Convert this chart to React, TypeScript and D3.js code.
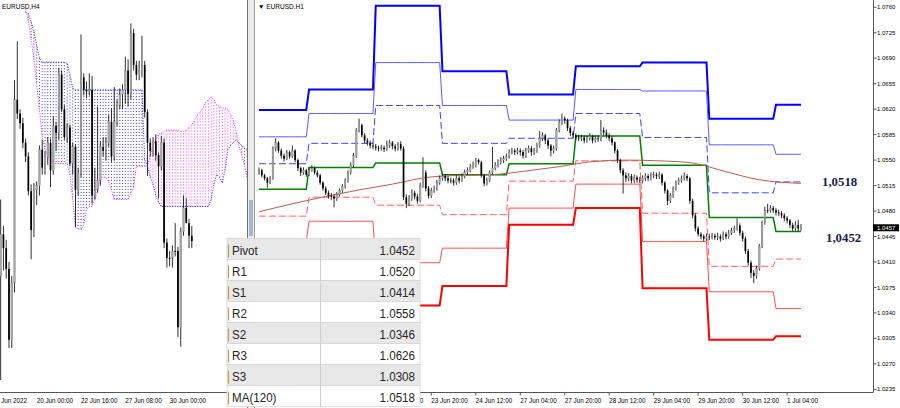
import { useEffect, useRef } from 'react';
import * as d3 from 'd3';

// all prices are kept in pips above 1.0000
const toPrice = (p: number) => 1 + p / 10000;

// EURUSD H1, 21 Jun 06:00 .. 1 Jul 09:00  [open, high, low, close]
const h1Bars: number[][] = [
  [532,540,530,536],[536,538,526,529],[529,531,522,525],[525,527,512,519],[519,528,517,525],[525,569,523,566],[566,580,562,574],[574,576,560,563],
  [563,566,552,556],[556,559,548,552],[552,564,550,561],[561,563,552,555],[555,570,553,563],[563,565,547,550],[550,552,535,539],[539,541,528,533],
  [533,540,530,536],[536,538,527,530],[530,540,528,536],[536,543,534,539],[539,541,530,533],[533,536,526,529],[529,531,516,519],[519,521,508,511],
  [511,514,502,505],[505,508,497,501],[501,505,495,500],[500,503,485,497],[497,506,494,503],[503,511,500,508],[508,517,505,514],[514,525,511,522],
  [522,536,519,533],[533,547,530,543],[543,560,540,556],[556,594,553,591],[591,607,588,598],[598,600,581,584],[584,587,573,577],[577,580,570,574],
  [574,577,566,570],[570,574,565,569],[569,572,563,567],[567,570,562,566],[566,571,563,567],[567,570,561,565],[565,577,563,570],[570,578,567,574],
  [574,576,565,569],[569,572,562,566],[566,575,563,572],[572,576,563,566],[566,569,495,499],[499,503,484,490],[490,502,487,497],[497,510,494,505],
  [505,508,496,500],[500,503,490,494],[494,519,492,515],[515,554,512,533],[533,536,507,511],[511,514,497,501],[501,512,498,508],[508,515,505,511],
  [511,523,508,519],[519,529,516,525],[525,532,522,528],[528,531,521,525],[525,528,518,522],[522,526,518,522],[522,525,515,519],[519,529,516,525],
  [525,528,518,522],[522,532,520,528],[528,537,525,533],[533,540,530,536],[536,545,533,541],[541,548,538,543],[543,553,540,550],[550,552,544,547],
  [547,549,526,529],[529,531,514,518],[518,526,515,522],[522,536,520,533],[533,568,530,539],[539,547,536,543],[543,551,540,547],[547,554,544,550],
  [550,556,546,552],[552,559,549,555],[555,565,552,561],[561,567,558,563],[563,566,557,561],[561,567,558,563],[563,566,556,561],[561,564,552,556],
  [556,567,553,563],[563,570,560,566],[566,569,556,561],[561,567,557,563],[563,574,560,570],[570,590,567,580],[580,588,576,584],[584,586,572,577],
  [577,580,565,570],[570,572,555,563],[563,570,559,566],[566,594,563,591],[591,606,588,602],[602,614,598,607],[607,610,600,605],[605,607,590,594],
  [594,597,583,587],[587,590,580,584],[584,587,577,581],[581,585,576,580],[580,585,576,581],[581,584,573,577],[577,584,574,580],[580,587,577,583],
  [583,585,573,577],[577,584,574,580],[580,584,575,579],[579,605,576,591],[591,595,584,588],[588,592,580,584],[584,587,576,580],[580,583,570,574],
  [574,576,559,563],[563,565,546,550],[550,552,532,536],[536,539,504,529],[529,533,520,525],[525,532,521,528],[528,531,518,522],[522,530,518,526],
  [526,529,519,523],[523,527,518,522],[522,529,518,525],[525,532,521,528],[528,531,521,525],[525,533,522,529],[529,534,525,530],[530,533,524,528],
  [528,534,524,530],[530,532,515,519],[519,521,504,508],[508,510,488,494],[494,505,491,501],[501,514,498,511],[511,522,508,519],[519,526,516,522],
  [522,529,519,525],[525,533,522,528],[528,531,521,525],[525,527,490,494],[494,497,470,474],[474,477,452,456],[456,459,445,448],[448,451,441,445],
  [445,448,438,442],[442,449,439,445],[445,449,440,444],[444,450,441,446],[446,449,440,444],[444,450,440,445],[445,448,438,442],[442,452,440,448],
  [448,451,441,445],[445,454,442,450],[450,457,447,453],[453,460,450,456],[456,470,453,460],[460,463,446,450],[450,453,438,442],[442,445,421,425],
  [425,428,405,409],[409,412,388,395],[395,399,381,391],[391,405,387,401],[401,435,398,432],[432,467,429,464],[464,486,461,481],[481,490,477,481],
  [481,488,478,484],[484,487,477,481],[481,484,474,478],[478,482,473,477],[477,480,470,474],[474,477,466,470],[470,473,463,467],[467,469,457,461],
  [461,464,452,456],[456,466,453,461],[461,468,452,456],[456,462,453,457],
];

// daily pivot levels on the H1 chart, one value per trading day
const dayStart = [0, 18, 42, 66, 90, 114, 138, 162, 186];
const levelR3 = [619, 647, 762, 672, 640, 679, 684, 607, 626];
const levelR2 = [582, 614, 684, 625, 605, 647, 645, 571, 558];
const levelR1 = [545, 573, 625, 573, 580, 614, 581, 505, 520];
const levelP = [510, 540, 546, 530, 545, 583, 543, 471, 452];
const levelS1 = [473, 499, 488, 475, 521, 549, 477, 404, 414];
const levelS2 = [438, 466, 409, 429, 484, 517, 438, 369, 346];
const levelS3 = [401, 425, 350, 377, 461, 484, 374, 303, 308];

// MA(120) read at some H1 bars
const maIndex = [0, 12, 24, 36, 48, 60, 72, 84, 96, 108, 120, 132, 144, 156, 168, 180, 195];
const maValue = [479, 490, 500, 509, 517, 526, 529, 530, 535, 541, 548, 550, 549, 546, 534, 523, 518];

const priceTicks = [1.076, 1.0725, 1.069, 1.0655, 1.062, 1.0585, 1.055, 1.0515, 1.048, 1.0445, 1.041, 1.0375, 1.034, 1.0305, 1.027, 1.0235];
const h1TickIndex = [46, 62, 78, 94, 110, 126, 142, 158, 174, 190];
const h1TickLabel = ['23 Jun 04:00', '23 Jun 20:00', '24 Jun 12:00', '27 Jun 04:00', '27 Jun 20:00', '28 Jun 12:00', '29 Jun 04:00', '29 Jun 20:00', '30 Jun 12:00', '1 Jul 04:00'];

// EURUSD H4, 15 Jun 16:00 .. 1 Jul 08:00  [open, high, low, close]
const h4Bars: number[][] = [
  [440,452,425,432],[432,487,357,462],[462,468,436,452],[452,458,430,437],[437,442,380,386],[386,432,380,427],[427,573,420,559],[559,601,545,549],
  [549,552,538,542],[542,546,524,528],[528,531,514,518],[518,521,490,493],[493,498,444,465],[465,499,460,494],[494,500,483,497],[497,526,490,523],
  [523,530,505,510],[510,522,505,518],[518,532,512,528],[528,531,496,508],[508,547,505,540],[540,543,522,535],[535,582,530,577],[577,580,550,552],
  [552,555,530,532],[532,542,528,539],[539,541,511,513],[513,528,505,525],[525,527,467,494],[494,510,490,506],[506,606,503,575],[575,578,562,566],
  [566,572,560,565],[565,578,562,566],[566,576,484,490],[490,510,487,494],[494,554,492,501],[501,529,497,525],[525,532,518,522],[522,532,515,528],
  [528,548,525,543],[543,553,514,518],[518,568,515,543],[543,559,540,555],[555,567,552,563],[563,570,552,566],[566,590,556,580],[580,588,554,563],
  [563,614,559,607],[607,610,580,584],[584,587,573,577],[577,587,573,580],[580,605,575,584],[584,587,546,550],[550,552,504,528],[528,531,518,522],
  [522,532,518,529],[529,534,515,519],[519,521,488,511],[511,533,508,528],[528,531,452,456],[456,459,438,445],[445,450,439,445],[445,454,438,450],
  [450,470,446,450],[450,453,388,395],[395,467,381,464],[464,490,461,481],[481,488,470,470],[470,473,452,461],[461,468,452,457],
];

// Ichimoku cloud on the H4 chart, bars 10..90
const cloudStart = 10;
const spanA = [
  622, 621, 615, 608, 598, 589, 586, 586, 586, 586, 586, 586, 586, 586, 586, 585, 577, 567,
  566, 566, 566, 566, 566, 566, 566, 566, 566, 566, 566, 566, 566, 566, 566, 566, 566, 566, 566, 566, 566, 566, 566, 566, 566,
  516, 511, 503, 498, 490, 485,
  482, 482, 482, 482, 482, 482, 482, 482, 482, 482, 482, 482, 482, 482, 482, 482, 482, 482,
  487, 498, 505, 503, 499, 508, 523, 526, 528, 530, 528, 526, 524, 523,
];
const spanB = [
  624, 616, 603, 588, 570, 552, 532, 523, 518, 516, 513, 513, 513, 513, 513, 513,
  505, 487, 467, 466, 465, 469, 480, 482, 482, 487, 494, 503, 503, 503, 500, 494,
  487, 487, 487, 487, 487, 487, 492, 496, 511, 511, 511, 511, 511,
  519, 526, 530, 534, 535, 536, 537, 537, 537, 537, 537,
  536, 536, 537, 539, 541, 544, 548, 550, 553, 557, 559, 561, 559, 555, 554, 553, 553, 552, 548, 544, 536, 526, 519, 512, 503,
];
const h4TickIndex = [-2, 14, 30, 46, 62];
const h4TickLabel = ['15 Jun 2022', '20 Jun 00:00', '22 Jun 16:00', '27 Jun 08:00', '30 Jun 00:00'];

const tableLabels = ['Pivot', 'R1', 'S1', 'R2', 'S2', 'R3', 'S3', 'MA(120)'];
const tableValues = ['1.0452', '1.0520', '1.0414', '1.0558', '1.0346', '1.0626', '1.0308', '1.0518'];

const FONT = "'Liberation Sans', Arial, sans-serif";

function drawCandles(g: any, bars: number[][], x: any, y: any, bodyW: number) {
  bars.forEach((b, i) => {
    const [o, h, l, c] = b.map(toPrice);
    const cx = x(i);
    g.append('line')
      .attr('x1', cx).attr('x2', cx)
      .attr('y1', y(h)).attr('y2', y(l))
      .attr('stroke', '#1a1a1a')
      .attr('stroke-width', 0.9);
    const top = y(Math.max(o, c));
    const bot = y(Math.min(o, c));
    g.append('rect')
      .attr('x', cx - bodyW / 2)
      .attr('y', top)
      .attr('width', bodyW)
      .attr('height', Math.max(0.9, bot - top))
      .attr('fill', c > o ? '#a6a6a6' : '#000')
      .attr('stroke', c > o ? '#7a7a7a' : 'none')
      .attr('stroke-width', 0.3);
  });
}

export default function App() {
  const ref = useRef<SVGSVGElement>(null);

  useEffect(() => {
    if (!ref.current) return;
    const svg = d3.select(ref.current);
    svg.selectAll('*').remove();

    svg.append('rect').attr('width', 900).attr('height', 408).attr('fill', '#fff');

    const defs = svg.append('defs');
    defs.append('clipPath').attr('id', 'clipL')
      .append('rect').attr('x', 0).attr('y', 0).attr('width', 247).attr('height', 392);
    defs.append('clipPath').attr('id', 'clipR')
      .append('rect').attr('x', 255).attr('y', 0).attr('width', 618).attr('height', 392);

    // ---------- left panel: H4 with Ichimoku cloud ----------
    const xL = d3.scaleLinear().domain([0, 70]).range([-2.1, 191.8]);
    const yL = d3.scaleLinear().domain([1.0381, 1.0614]).range([346.7, 23.3]);
    const left = svg.append('g').attr('clip-path', 'url(#clipL)');

    spanA.forEach((a, j) => {
      const k = cloudStart + j;
      const b = spanB[j];
      left.append('line')
        .attr('x1', xL(k)).attr('x2', xL(k))
        .attr('y1', yL(toPrice(a))).attr('y2', yL(toPrice(b)))
        .attr('stroke', a >= b ? '#3c3cff' : '#ff3cff')
        .attr('stroke-width', 1)
        .attr('stroke-dasharray', '1,2');
    });
    const cloudLine = (vals: number[]) =>
      d3.line<number>()
        .x((_, j) => xL(cloudStart + j))
        .y(v => yL(toPrice(v)))(vals);
    left.append('path').attr('d', cloudLine(spanA)).attr('fill', 'none')
      .attr('stroke', '#2020ff').attr('stroke-width', 1).attr('stroke-dasharray', '1,1.5');
    left.append('path').attr('d', cloudLine(spanB)).attr('fill', 'none')
      .attr('stroke', '#ff20ff').attr('stroke-width', 1).attr('stroke-dasharray', '1,1.5');

    drawCandles(left, h4Bars, xL, yL, 1.7);

    left.append('text').attr('x', 2).attr('y', 8.5)
      .attr('font-family', FONT).attr('font-size', 6.5).attr('fill', '#000')
      .text('EURUSD,H4');

    svg.append('line').attr('x1', 0).attr('x2', 247).attr('y1', 392.5).attr('y2', 392.5)
      .attr('stroke', '#555').attr('stroke-width', 1);
    h4TickIndex.forEach((k, j) => {
      svg.append('text').attr('x', xL(k)).attr('y', 403)
        .attr('font-family', FONT).attr('font-size', 6.3).attr('fill', '#000')
        .text(h4TickLabel[j]);
    });

    // separator between the two windows
    svg.append('rect').attr('x', 247).attr('y', 0).attr('width', 8).attr('height', 408).attr('fill', '#ececec');
    svg.append('rect').attr('x', 249).attr('y', 200).attr('width', 4).attr('height', 36).attr('fill', '#a9b6cb');
    svg.append('line').attr('x1', 247.5).attr('x2', 247.5).attr('y1', 0).attr('y2', 408).attr('stroke', '#6e6e6e');
    svg.append('line').attr('x1', 254.5).attr('x2', 254.5).attr('y1', 0).attr('y2', 408).attr('stroke', '#9c9c9c');

    // ---------- right panel: H1 with daily pivots ----------
    const xR = d3.scaleLinear().domain([0, 195]).range([259, 801]);
    const yR = d3.scaleLinear().domain([1.0235, 1.076]).range([389.3, 7.3]);
    const right = svg.append('g').attr('clip-path', 'url(#clipR)');

    const dayOf = (i: number) => d3.bisectRight(dayStart, i) - 1;
    const barIdx = d3.range(h1Bars.length);
    const levelLine = (lv: number[]) =>
      d3.line<number>()
        .x(i => xR(i))
        .y(i => yR(toPrice(lv[dayOf(i)])))(barIdx);

    const levels: [number[], string, number, string | null][] = [
      [levelR3, '#0000ff', 2, null],
      [levelR2, '#5a5aff', 1, null],
      [levelR1, '#3d3dff', 1, '7,3'],
      [levelS1, '#ff5c5c', 1, '7,3'],
      [levelS2, '#ff5050', 1, null],
      [levelS3, '#ff0000', 2, null],
      [levelP, '#008000', 1.5, null],
    ];
    levels.forEach(([lv, color, w, dash]) => {
      const p = right.append('path').attr('d', levelLine(lv)).attr('fill', 'none')
        .attr('stroke', color).attr('stroke-width', w);
      if (dash) p.attr('stroke-dasharray', dash);
    });

    const maLine = d3.line<number>()
      .x((_, j) => xR(maIndex[j]))
      .y(v => yR(toPrice(v)))
      .curve(d3.curveMonotoneX);
    right.append('path').attr('d', maLine(maValue)).attr('fill', 'none')
      .attr('stroke', '#bf5a52').attr('stroke-width', 1);

    drawCandles(right, h1Bars, xR, yR, 1.7);

    right.append('text').attr('x', 258).attr('y', 8.5)
      .attr('font-family', FONT).attr('font-size', 6.5).attr('fill', '#000')
      .text('\u25BC EURUSD.H1');

    // value labels drawn on the chart
    [['1,0518', 822, 185.5], ['1,0452', 826, 242]].forEach(([t, x, y]) => {
      svg.append('text').attr('x', x as number).attr('y', y as number)
        .attr('font-family', "'Liberation Serif', 'Times New Roman', serif")
        .attr('font-weight', 'bold').attr('font-size', 12.8).attr('fill', '#1c1c4c')
        .text(t as string);
    });

    // axes
    svg.append('line').attr('x1', 255).attr('x2', 873).attr('y1', 392.5).attr('y2', 392.5)
      .attr('stroke', '#555');
    svg.append('line').attr('x1', 873.5).attr('x2', 873.5).attr('y1', 0).attr('y2', 392.5)
      .attr('stroke', '#555');
    priceTicks.forEach(p => {
      const y = yR(p);
      svg.append('line').attr('x1', 873.5).attr('x2', 876.5).attr('y1', y).attr('y2', y)
        .attr('stroke', '#555');
      svg.append('text').attr('x', 877).attr('y', y).attr('dy', '0.35em')
        .attr('font-family', FONT).attr('font-size', 6).attr('fill', '#000')
        .text(p.toFixed(4));
    });
    h1TickIndex.forEach((i, j) => {
      const x = xR(i);
      svg.append('line').attr('x1', x).attr('x2', x).attr('y1', 392.5).attr('y2', 395.5)
        .attr('stroke', '#555');
      svg.append('text').attr('x', x).attr('y', 403)
        .attr('font-family', FONT).attr('font-size', 6.3).attr('fill', '#000')
        .text(h1TickLabel[j]);
    });

    // current price marker
    const last = toPrice(h1Bars[h1Bars.length - 1][3]);
    svg.append('rect').attr('x', 873).attr('y', yR(last) - 3.5).attr('width', 26).attr('height', 7)
      .attr('fill', '#000');
    svg.append('text').attr('x', 877).attr('y', yR(last)).attr('dy', '0.35em')
      .attr('font-family', FONT).attr('font-size', 6).attr('fill', '#fff')
      .text(last.toFixed(4));

    // ---------- levels table ----------
    const tbl = svg.append('g');
    const tx0 = 227, tx1 = 420, ty0 = 238.3, rowH = 21.05;
    tableLabels.forEach((lab, r) => {
      const y0 = ty0 + r * rowH;
      tbl.append('rect').attr('x', tx0).attr('y', y0).attr('width', tx1 - tx0).attr('height', rowH)
        .attr('fill', r % 2 === 0 ? '#e8e8e8' : '#ffffff')
        .attr('stroke', '#d4d4d4').attr('stroke-width', 0.8);
      tbl.append('line').attr('x1', tx0 + 1.5).attr('x2', tx0 + 1.5)
        .attr('y1', y0 + 6).attr('y2', y0 + rowH - 2)
        .attr('stroke', '#c49a5c').attr('stroke-width', 1.2);
      tbl.append('text')
        .attr('transform', `translate(${tx0 + 5},${y0 + 16.3}) scale(0.86,1)`)
        .attr('font-family', FONT).attr('font-size', 13.5).attr('fill', '#262626')
        .text(lab);
      tbl.append('text')
        .attr('transform', `translate(${tx1 - 5},${y0 + 16.3}) scale(0.86,1)`)
        .attr('text-anchor', 'end')
        .attr('font-family', FONT).attr('font-size', 13.5).attr('fill', '#262626')
        .text(tableValues[r]);
    });
    tbl.append('line').attr('x1', 320.5).attr('x2', 320.5).attr('y1', ty0).attr('y2', ty0 + rowH * 8)
      .attr('stroke', '#cfcfcf');
  }, []);

  return (
    <svg
      ref={ref}
      width={900}
      height={408}
      style={{ position: 'absolute', left: 0, top: 0, display: 'block' }}
    />
  );
}
